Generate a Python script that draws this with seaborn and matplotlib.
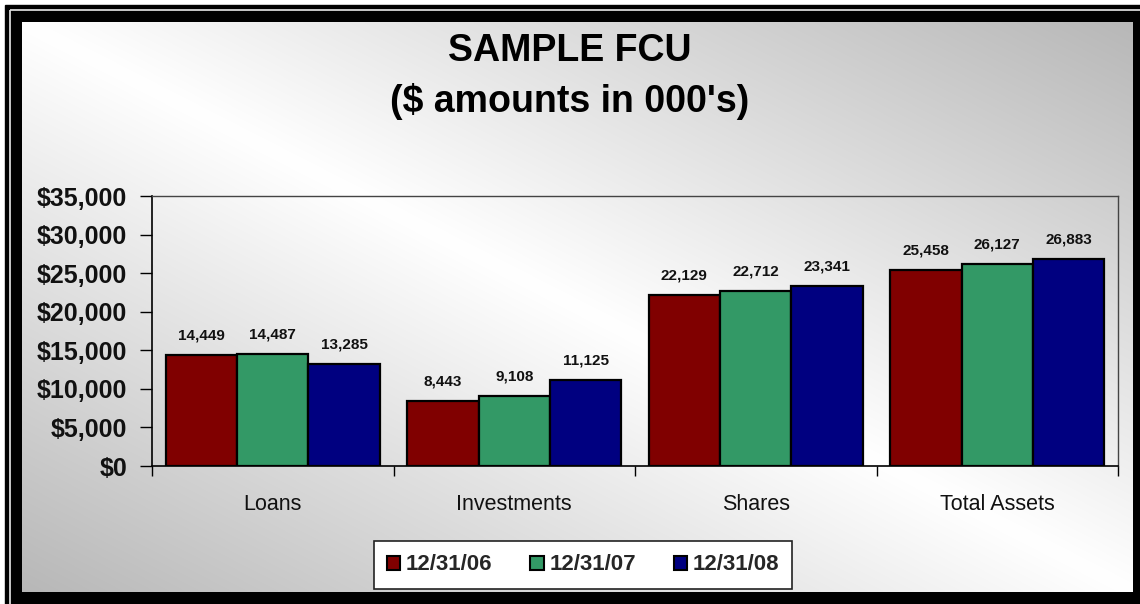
import numpy as np
import pandas as pd
import matplotlib
matplotlib.use("Agg")
import matplotlib.pyplot as plt
import seaborn as sns
from matplotlib.patches import Rectangle
from matplotlib.ticker import FuncFormatter

# ---- data ----
categories = ["Loans", "Investments", "Shares", "Total Assets"]
periods = ["12/31/06", "12/31/07", "12/31/08"]
values_06 = [14449, 8443, 22129, 25458]
values_07 = [14487, 9108, 22712, 26127]
values_08 = [13285, 11125, 23341, 26883]
colors = ["#800000", "#339966", "#000080"]
yticks = [0, 5000, 10000, 15000, 20000, 25000, 30000, 35000]
title_line1 = "SAMPLE FCU"
title_line2 = "($ amounts in 000's)"

rows = []
for p, vals in zip(periods, [values_06, values_07, values_08]):
    for c, v in zip(categories, vals):
        rows.append({"category": c, "period": p, "value": v})
df = pd.DataFrame(rows)

sns.set_theme(style="white")
plt.rcParams["font.family"] = ["Liberation Sans", "DejaVu Sans"]

W, H = 1140, 604
fig = plt.figure(figsize=(W / 100, H / 100), dpi=100)

# ---- background frame and gradient ----
bg = fig.add_axes([0, 0, 1, 1], zorder=-10)
bg.axis("off")
bg.add_patch(Rectangle((0, 0), W, H, color="white", zorder=1))
bg.add_patch(Rectangle((5, 5), W + 20, H + 20, color="black", zorder=1))
bg.add_patch(Rectangle((9.5, 9.5), W + 20, H + 20, fill=False,
                       edgecolor="#d8d8d8", lw=1.3, zorder=1.5))
x0, x1, y0, y1 = 22, 1133, 22, 592
xx, yy = np.meshgrid(np.linspace(0, 1, 400), np.linspace(0, 1, 220))
g = 1 - 0.28 * np.abs(xx - yy)
bg.imshow(np.dstack([g, g, g]), extent=(x0, x1, y1, y0), origin="upper",
          aspect="auto", interpolation="bilinear", zorder=3)
bg.set_xlim(0, W)
bg.set_ylim(H, 0)

# ---- main axes ----
ax = fig.add_axes([152 / W, 1 - 466 / H, (1118 - 152) / W, (466 - 196) / H])
ax.set_facecolor("none")

sns.barplot(data=df, x="category", y="value", hue="period", palette=colors,
            width=0.886, edgecolor="black", linewidth=1.6, saturation=1,
            errorbar=None, ax=ax)

for cont in ax.containers:
    ax.bar_label(cont, fmt="{:,.0f}", padding=9, fontsize=11,
                 fontweight="bold", color="#111111")

ax.set_ylim(0, 35000)
ax.set_xlim(-0.5, 3.5)
ax.set_yticks(yticks)
ax.yaxis.set_major_formatter(FuncFormatter(lambda v, p: f"${v:,.0f}"))
ax.tick_params(axis="y", left=True, length=9, width=1, color="black",
               labelsize=18, pad=9, direction="out")
for lab in ax.get_yticklabels():
    lab.set_fontweight("bold")
    lab.set_color("#111111")

ax.set_xticks(range(len(categories)))
ax.set_xticklabels(categories)
ax.set_xticks([-0.5, 0.5, 1.5, 2.5, 3.5], minor=True)
ax.tick_params(axis="x", which="major", length=0, pad=20, labelsize=15.5,
               labelcolor="#111111")
ax.tick_params(axis="x", which="minor", bottom=True, length=7, width=1,
               color="black", direction="out")
ax.set_xlabel("")
ax.set_ylabel("")

for s in ["left", "bottom"]:
    ax.spines[s].set_color("black")
    ax.spines[s].set_linewidth(1.2)
for s in ["top", "right"]:
    ax.spines[s].set_color("#444444")
    ax.spines[s].set_linewidth(1.0)

# ---- legend ----
handles, labels = ax.get_legend_handles_labels()
if ax.legend_:
    ax.legend_.remove()
leg = fig.legend(handles, labels, loc="center",
                 bbox_to_anchor=(583 / W, 1 - 565 / H),
                 bbox_transform=fig.transFigure, ncol=3, frameon=True,
                 fancybox=False, edgecolor="#222222", facecolor="white",
                 framealpha=1, prop={"weight": "bold", "size": 16},
                 handlelength=0.6, handleheight=0.6, handletextpad=0.25,
                 columnspacing=1.7, borderpad=0.6, borderaxespad=0)
leg.get_frame().set_linewidth(1.2)
for h in leg.legend_handles:
    h.set_edgecolor("black")
    h.set_linewidth(1.5)

# ---- title ----
fig.text(0.5, 1 - 51 / H, title_line1, ha="center", va="center",
         fontsize=27, fontweight="bold", color="black")
fig.text(0.5, 1 - 102 / H, title_line2, ha="center", va="center",
         fontsize=27, fontweight="bold", color="black")

fig.savefig("out.png", dpi=100)
